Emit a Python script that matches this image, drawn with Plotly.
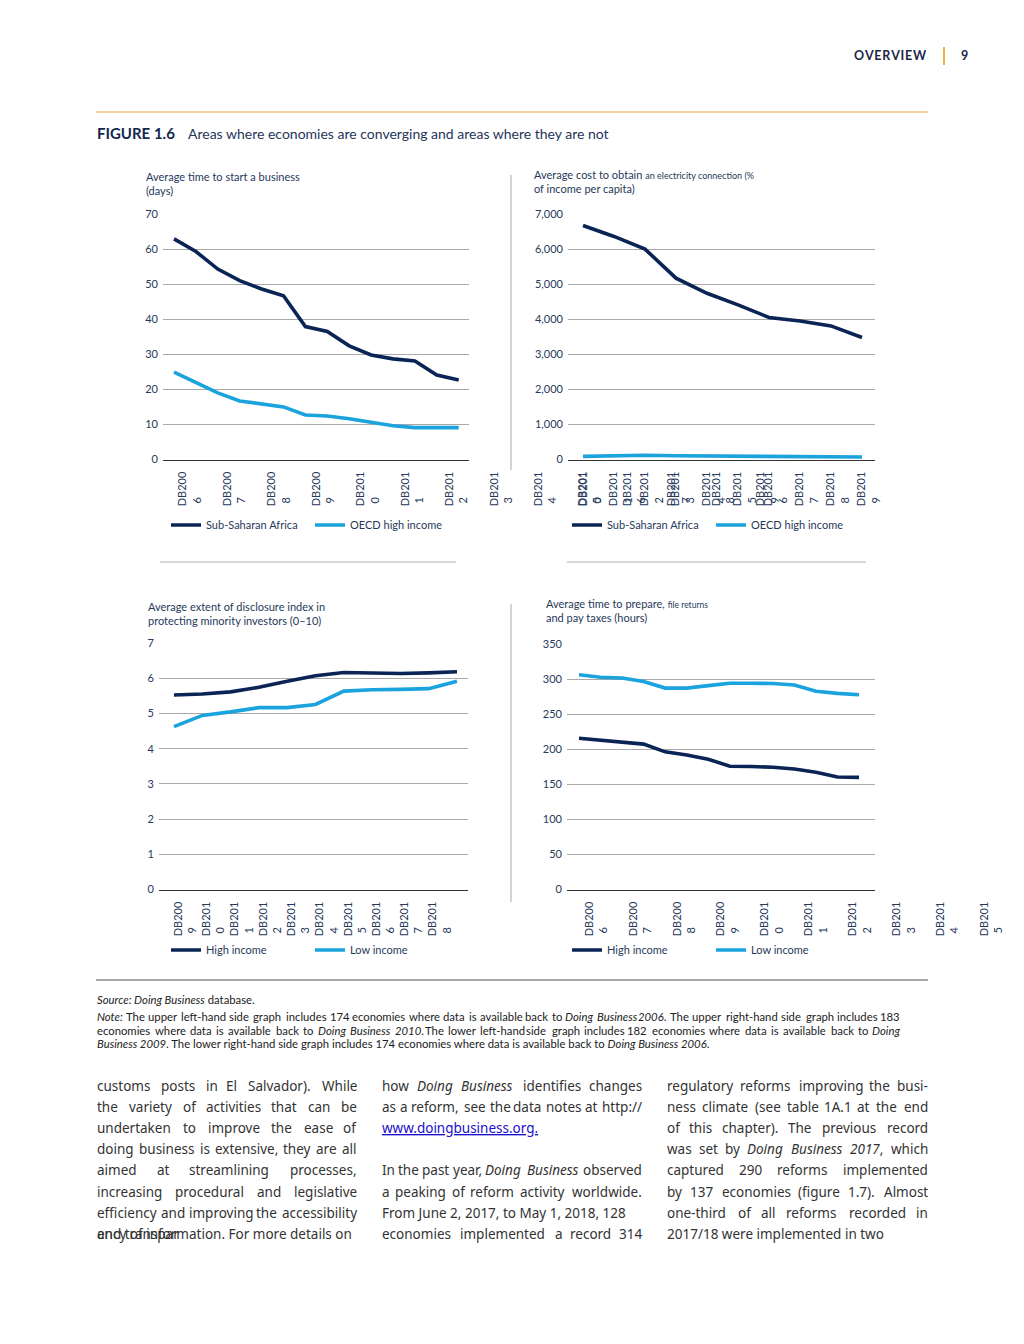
import re
import plotly.graph_objects as go

W, H = 1024, 1344

# ---- data ----
years_start = ["DB2006", "DB2007", "DB2008", "DB2009", "DB2010", "DB2011", "DB2012",
               "DB2013", "DB2014", "DB2015", "DB2016", "DB2017", "DB2018", "DB2019"]
ssa_start = [62.9, 59.3, 54.3, 51.0, 48.6, 46.7, 37.9, 36.5, 32.4, 29.8, 28.7, 28.1, 24.1, 22.7]
oecd_start = [24.9, 22.0, 19.0, 16.7, 15.8, 15.0, 12.7, 12.4, 11.6, 10.6, 9.6, 9.1, 9.1, 9.1]

years_elec = ["DB2010", "DB2011", "DB2012", "DB2013", "DB2014",
              "DB2015", "DB2016", "DB2017", "DB2018", "DB2019"]
ssa_elec = [6670, 6360, 6000, 5170, 4740, 4410, 4050, 3950, 3810, 3480]
oecd_elec = [90, 115, 120, 105, 95, 90, 85, 80, 75, 70]

years_disc = ["DB2009", "DB2010", "DB2011", "DB2012", "DB2013", "DB2014",
              "DB2015", "DB2016", "DB2017", "DB2018", "DB2019"]
high_disc = [5.53, 5.56, 5.62, 5.75, 5.92, 6.08, 6.17, 6.16, 6.14, 6.16, 6.19]
low_disc = [4.63, 4.95, 5.05, 5.17, 5.17, 5.26, 5.64, 5.68, 5.69, 5.71, 5.92]

years_tax = years_start
high_tax = [216, 213.5, 210, 207.5, 196.5, 192, 186, 176, 175.5, 174.5, 172, 167.5, 160.5, 160]
low_tax = [306.5, 303, 302, 297, 287.5, 287.5, 291, 294.5, 294.5, 294, 292, 283, 280, 278]

NAVY = "#0b2456"
SKY = "#1ba3de"
TXT = "#27395a"
GRID = "#a9a9a9"
CHART_FONT = "Lato"

panels = [
    dict(xb=(163, 469), yb=(214, 459.5), p0=174, step=21.9, yr=(0, 70), dt=10, fmt="",
         labels=years_start, loff=0.73, lstep=2.03, lend=790, leg=(166, 525),
         series=[("Sub-Saharan Africa", ssa_start, NAVY), ("OECD high income", oecd_start, SKY)],
         title="Average time to start a business<br>(days)", tpos=(145, 183)),
    dict(xb=(568, 875), yb=(214, 459.5), p0=583, step=31.0, yr=(0, 7000), dt=1000, fmt=",d",
         labels=years_elec, loff=0.22, lstep=1, lend=875, leg=(567, 525),
         series=[("Sub-Saharan Africa", ssa_elec, NAVY), ("OECD high income", oecd_elec, SKY)],
         title="Average cost to obtain <span style='font-size:9px'>an electricity connection (%</span>"
               "<br>of income per capita)", tpos=(533, 181)),
    dict(xb=(159, 468), yb=(643.3, 889.5), p0=174, step=28.3, yr=(0, 7), dt=1, fmt="",
         labels=years_disc, loff=0.4, lstep=1, lend=468, leg=(166, 950),
         series=[("High income", high_disc, NAVY), ("Low income", low_disc, SKY)],
         title="Average extent of disclosure index in<br>protecting minority investors (0\u201310)",
         tpos=(147, 613)),
    dict(xb=(567, 875), yb=(644.3, 889.5), p0=579, step=21.54, yr=(0, 350), dt=50, fmt="",
         labels=years_tax, loff=0.8, lstep=2.04, lend=1024, leg=(567, 950),
         series=[("High income", high_tax, NAVY), ("Low income", low_tax, SKY)],
         title="Average time to prepare, <span style='font-size:8.5px'>file returns</span>"
               "<br>and pay taxes (hours)", tpos=(545, 610)),
]


def db_label(s):
    # the pdf export breaks "DB2006" into "DB200" / "6", both starting at the bottom
    return s[:5] + "<br>" + s[5:] + "\u2007" * 4


annotations = []
shapes = []


def txt(x, y, s, size, color=TXT, family=CHART_FONT, xanchor="left", yanchor="middle"):
    annotations.append(dict(x=x / W, y=1 - y / H, xref="paper", yref="paper", text=s,
                            showarrow=False, xanchor=xanchor, yanchor=yanchor, align="left",
                            borderpad=0, font=dict(family=family, size=size, color=color)))


def hline(x0, x1, y, color, width):
    shapes.append(dict(type="line", xref="paper", yref="paper", x0=x0 / W, x1=x1 / W,
                       y0=1 - y / H, y1=1 - y / H, line=dict(color=color, width=width)))


def vline(x, y0, y1, color, width):
    shapes.append(dict(type="line", xref="paper", yref="paper", x0=x / W, x1=x / W,
                       y0=1 - y0 / H, y1=1 - y1 / H, line=dict(color=color, width=width)))


fig = go.Figure()
layout = {}

for i, p in enumerate(panels, start=1):
    sfx = "" if i == 1 else str(i)
    leg = "legend" if i == 1 else f"legend{i}"
    r0 = (p["xb"][0] - p["p0"]) / p["step"]
    r1 = (p["xb"][1] - p["p0"]) / p["step"]
    ydom = [1 - p["yb"][1] / H, 1 - p["yb"][0] / H]

    for name, vals, color in p["series"]:
        fig.add_trace(go.Scatter(x=list(range(len(vals))), y=vals, name=name, mode="lines",
                                 line=dict(color=color, width=3.6), xaxis=f"x{sfx}",
                                 yaxis=f"y{sfx}", legend=leg, cliponaxis=False))

    layout[f"xaxis{sfx}"] = dict(domain=[p["xb"][0] / W, p["xb"][1] / W], range=[r0, r1],
                                 anchor=f"y{sfx}", showgrid=False, zeroline=False, showline=True,
                                 linecolor="#333333", linewidth=1, showticklabels=False, ticks="",
                                 automargin=False)
    layout[f"yaxis{sfx}"] = dict(domain=ydom, range=list(p["yr"]), dtick=p["dt"], tick0=0,
                                 anchor=f"x{sfx}", showgrid=True, gridcolor=GRID, gridwidth=1,
                                 zeroline=False, showline=False, ticks="", tickformat=p["fmt"],
                                 ticklabelstandoff=4, automargin=False,
                                 tickfont=dict(family=CHART_FONT, size=11, color=TXT))

    # category labels sit on their own axis, they run past the plot area in the original
    j = i + 4
    lend = min(p["lend"], W)
    lr1 = r0 + (lend - p["xb"][0]) / p["step"]
    layout[f"xaxis{j}"] = dict(domain=[p["xb"][0] / W, lend / W], range=[r0, lr1],
                               anchor=f"y{j}", showgrid=False, zeroline=False, showline=False,
                               ticks="", tickmode="array", automargin=False,
                               tickvals=[p["loff"] + k * p["lstep"] for k in range(len(p["labels"]))],
                               ticktext=[db_label(s) for s in p["labels"]], tickangle=-90,
                               ticklabelstandoff=9,
                               tickfont=dict(family=CHART_FONT, size=11, color=TXT))
    layout[f"yaxis{j}"] = dict(domain=ydom, range=[0, 1], anchor=f"x{j}", visible=False,
                               automargin=False)
    fig.add_trace(go.Scatter(x=[None], y=[None], xaxis=f"x{j}", yaxis=f"y{j}",
                             showlegend=False, hoverinfo="skip"))

    layout[leg] = dict(orientation="h", x=p["leg"][0] / W, y=1 - p["leg"][1] / H,
                       xanchor="left", yanchor="middle", bgcolor="rgba(0,0,0,0)",
                       entrywidth=99, entrywidthmode="pixels", itemwidth=30,
                       font=dict(family=CHART_FONT, size=11, color=TXT))

    txt(p["tpos"][0], p["tpos"][1], p["title"], 11)

# ---- page furniture ----
txt(853, 56, "<b>O\u200aV\u200aE\u200aR\u200aV\u200aI\u200aE\u200aW</b>", 12.5, "#1b2747")
txt(960, 56, "<b>9</b>", 12.5, "#1b2747")
vline(944, 47, 65, "#f0b43a", 2)
hline(96, 928, 112, "#f3c680", 1.5)

txt(96, 133, "<b>FIGURE 1.6</b>", 15, "#13284f")
txt(187, 133, "Areas where economies are converging and areas where they are not", 14, "#26355a")

vline(511, 175, 470, "#a8a8a8", 1)
vline(511, 604, 902, "#a8a8a8", 1)
hline(160, 456, 562, "#b0b0b0", 1)
hline(567, 866, 562, "#b0b0b0", 1)
hline(96, 928, 980, "#8a8a8a", 1.5)

# rough advance widths (em/1000) of an Open Sans-like face, used to spread words
ADV = dict(zip("abcdefghijklmnopqrstuvwxyz",
               [556, 613, 476, 613, 561, 339, 548, 614, 253, 253, 525, 253, 930, 614, 604,
                613, 613, 408, 477, 353, 614, 501, 778, 524, 502, 477]))
ADV.update(zip("ABCDEFGHIJKLMNOPQRSTUVWXYZ",
               [633, 648, 631, 729, 556, 516, 728, 738, 308, 270, 604, 524, 903, 760, 781,
                587, 781, 617, 536, 525, 734, 600, 928, 575, 549, 550]))
ADV.update({c: 572 for c in "0123456789"})
ADV.update({".": 266, ",": 245, "(": 296, ")": 296, "-": 322, "/": 367, ":": 266})


def words_of(line):
    # split a line with <i>..</i> into words, each a list of (text, italic)
    words, cur, ital = [], [], False
    for part in re.split(r"(<i>|</i>)", line):
        if part in ("<i>", "</i>"):
            ital = part == "<i>"
            continue
        pieces = part.split(" ")
        for n, piece in enumerate(pieces):
            if n > 0:
                words.append(cur)
                cur = []
            if piece:
                cur.append((piece, ital))
    words.append(cur)
    return [w for w in words if w]


def word_html(w):
    return "".join(f"<i>{t}</i>" if it else t for t, it in w)


def word_width(w, size, k):
    return sum(ADV.get(c, 560) * (0.95 if it else 1.0) for t, it in w for c in t) * size / 1000 * k


def jline(x0, x1, y, text, size, family, color, justify=True, k=1.0):
    # justified line: first half laid out from the left edge, second half from the right
    words = words_of(text)
    if not justify or len(words) < 2:
        txt(x0, y, text, size, color, family)
        return
    widths = [word_width(w, size, k) for w in words]
    gap = (x1 - x0 - sum(widths)) / (len(words) - 1)
    half = (len(words) + 1) // 2
    x = x0
    for n in range(half):
        txt(x, y, word_html(words[n]), size, color, family)
        x += widths[n] + gap
    x = x1
    for n in range(len(words) - 1, half - 1, -1):
        txt(x, y, word_html(words[n]), size, color, family, xanchor="right")
        x -= widths[n] + gap


NOTE_FONT = "Lato"
NOTE_COL = "#222222"
NOTE_K = 0.93

jline(96, 901, 999, "<i>Source: Doing Business</i> database.", 11.3, NOTE_FONT, NOTE_COL, False)
jline(96, 901, 1016, "<i>Note:</i> The upper left-hand side graph includes 174 economies where data is "
      "available back to <i>Doing Business 2006</i>. The upper right-hand side graph includes 183",
      11.3, NOTE_FONT, NOTE_COL, True, NOTE_K)
jline(96, 901, 1030, "economies where data is available back to <i>Doing Business 2010</i>. The lower "
      "left-hand side graph includes 182 economies where data is available back to <i>Doing</i>",
      11.3, NOTE_FONT, NOTE_COL, True, NOTE_K)
jline(96, 901, 1043, "<i>Business 2009</i>. The lower right-hand side graph includes 174 economies "
      "where data is available back to <i>Doing Business 2006</i>.", 11.3, NOTE_FONT, NOTE_COL, False)

BODY_FONT = "Noto Sans"
BODY_COL = "#333333"
BODY_K = 1.03
col1 = [("customs posts in El Salvador). While", True),
        ("the variety of activities that can be", True),
        ("undertaken to improve the ease of", True),
        ("doing business is extensive, they are all", True),
        ("aimed at streamlining processes,", True),
        ("increasing procedural and legislative", True),
        ("efficiency and improving the accessibility", True),
        ("ency of information. For more details on", False)]
col2 = [("how <i>Doing Business</i> identifies changes", True),
        ("as a reform, see the data notes at http://", True),
        ("<span style='text-decoration:underline'>www.doingbusiness.org.</span>", False),
        ("", False),
        ("In the past year, <i>Doing Business</i> observed", True),
        ("a peaking of reform activity worldwide.", True),
        ("From June 2, 2017, to May 1, 2018, 128", False),
        ("economies implemented a record 314", True)]
col3 = [("regulatory reforms improving the busi-", True),
        ("ness climate (see table 1A.1 at the end", True),
        ("of this chapter). The previous record", True),
        ("was set by <i>Doing Business 2017</i>, which", True),
        ("captured 290 reforms implemented", True),
        ("by 137 economies (figure 1.7). Almost", True),
        ("one-third of all reforms recorded in", True),
        ("2017/18 were implemented in two", False)]

for (x0, x1), col in zip([(96, 358), (381, 643), (666, 929)], [col1, col2, col3]):
    for k, (line, just) in enumerate(col):
        if not line:
            continue
        color = "#1a0dcc" if "doingbusiness.org" in line else BODY_COL
        jline(x0, x1, 1086 + 21.1 * k, line, 13.5, BODY_FONT, color, just, BODY_K)

# overprinted fragment from the source page
txt(96, 1086 + 21.1 * 7, "and transpar", 13.5, BODY_COL, BODY_FONT)

fig.update_layout(**layout)
fig.update_layout(width=W, height=H, margin=dict(l=0, r=0, t=0, b=0, autoexpand=False),
                  paper_bgcolor="white", plot_bgcolor="rgba(0,0,0,0)",
                  annotations=annotations, shapes=shapes, hovermode=False)

fig.write_html("out.html", config={"displayModeBar": False},
               post_script="document.body.style.margin='0px';")
